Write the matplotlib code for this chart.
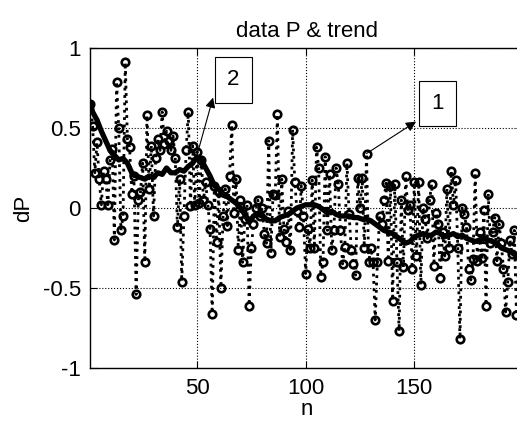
import matplotlib.pyplot as plt
import numpy as np

# Measured increments dP, one value per sample n = 1..200
dp = [
    0.65, 0.51, 0.22, 0.41, 0.18, 0.02, 0.23, 0.18, 0.02, 0.30,
    0.37, -0.20, 0.79, 0.50, -0.14, -0.05, 0.91, 0.43, 0.38, 0.09,
    0.20, -0.54, 0.05, 0.10, 0.28, -0.34, 0.58, 0.12, 0.39, -0.05,
    0.31, 0.43, 0.36, 0.60, 0.40, 0.48, 0.42, 0.36, 0.45, 0.31,
    -0.12, 0.18, -0.46, -0.05, 0.36, 0.60, 0.01, 0.39, 0.02, 0.35,
    0.03, 0.30, 0.05, 0.16, 0.02, -0.13, -0.66, 0.14, -0.21, 0.10,
    -0.50, -0.05, 0.12, -0.11, 0.20, 0.52, -0.03, 0.18, -0.26, 0.05,
    -0.34, -0.07, 0.02, -0.61, -0.25, -0.10, 0.00, 0.05, -0.05, 0.00,
    -0.165, -0.22, 0.42, -0.28, 0.09, 0.08, 0.585, -0.18, 0.18, -0.13,
    -0.21, -0.02, -0.26, 0.49, 0.165, -0.02, -0.12, 0.14, -0.05, -0.41,
    -0.13, -0.25, 0.175, -0.25, 0.38, 0.25, -0.43, -0.34, 0.32, -0.14,
    0.21, -0.26, -0.14, 0.25, 0.15, -0.14, -0.35, -0.245, 0.28, -0.04,
    -0.26, -0.35, -0.42, 0.185, 0.00, 0.185, -0.25, 0.34, -0.34, -0.25,
    -0.335, -0.70, -0.34, -0.05, -0.10, 0.05, 0.155, -0.33, 0.14, -0.58,
    0.15, -0.335, -0.77, 0.05, -0.37, 0.20, -0.01, 0.02, -0.38, 0.16,
    -0.30, 0.16, -0.48, 0.00, -0.07, -0.19, 0.05, 0.15, -0.36, -0.03,
    -0.10, -0.44, -0.15, -0.30, 0.12, -0.25, 0.23, 0.02, 0.175, -0.25,
    -0.82, 0.00, -0.04, -0.12, -0.38, -0.45, -0.32, 0.22, -0.33, -0.15,
    -0.31, -0.01, -0.61, 0.09, -0.22, -0.15, -0.06, -0.33, -0.10, -0.22,
    -0.38, -0.65, -0.46, -0.20, -0.29, -0.14, -0.67, -0.30, -0.42, -0.25,
]
n = np.arange(1, len(dp) + 1)

# Smoothed trend, sampled every second point
trend_n = list(range(0, 201, 2))
trend_n[0] = 1
trend_v = [
    0.65, 0.60, 0.55, 0.48, 0.42, 0.36, 0.33, 0.30, 0.31, 0.28,
    0.22, 0.20, 0.19, 0.18, 0.20, 0.19, 0.22, 0.21, 0.25, 0.22,
    0.22, 0.24, 0.23, 0.26, 0.28, 0.32, 0.30, 0.25, 0.20, 0.14,
    0.12, 0.08, 0.07, 0.05, 0.03, 0.00, -0.04, -0.09, -0.05, -0.04,
    -0.05, -0.07, -0.08, -0.08, -0.06, -0.05, -0.04, -0.02, 0.00, 0.01,
    0.02, 0.02, 0.02, 0.01, -0.01, -0.03, -0.02, -0.04, -0.05, -0.05,
    -0.05, -0.06, -0.06, -0.07, -0.07, -0.08, -0.10, -0.12, -0.14, -0.15,
    -0.16, -0.18, -0.20, -0.22, -0.21, -0.18, -0.17, -0.16, -0.17, -0.17,
    -0.15, -0.16, -0.18, -0.17, -0.16, -0.18, -0.17, -0.19, -0.20, -0.21,
    -0.20, -0.19, -0.20, -0.21, -0.22, -0.25, -0.26, -0.27, -0.29, -0.30,
    -0.31,
]

x_ticks = [50, 100, 150]
y_ticks = [-1, -0.5, 0, 0.5, 1]

plt.rcParams['font.family'] = ['Liberation Sans', 'DejaVu Sans']

fig = plt.figure(figsize=(5.17, 4.26), dpi=100)
ax = fig.add_axes([0.175, 0.1362, 0.8366, 0.7512])

ax.plot(n, dp, 'k:o', linewidth=2.0, markersize=5.4, markeredgewidth=1.9,
        markerfacecolor='none')
ax.plot(trend_n, trend_v, 'k-', linewidth=3.8, solid_joinstyle='round')

ax.set_xlim(1, 200)
ax.set_ylim(-1, 1)
ax.set_xticks(x_ticks)
ax.set_yticks(y_ticks)
ax.set_yticklabels(['%g' % v for v in y_ticks])
ax.tick_params(direction='in', labelsize=16, length=5, width=0.8,
               top=True, right=True, pad=7)
ax.grid(True, linestyle=':', linewidth=0.8, color='k')
for s in ax.spines.values():
    s.set_linewidth(1.0)

ax.set_title('data P & trend', fontsize=16, pad=8)
ax.set_xlabel('n', fontsize=16, labelpad=0)
ax.set_ylabel('dP', fontsize=16, labelpad=6)

# Callouts pointing at the two marked samples
arrow = dict(arrowstyle='-|>', color='k', linewidth=0.8,
             mutation_scale=15, shrinkA=0, shrinkB=0)
ax.annotate('', xy=(150.8, 0.54), xytext=(128, 0.34), arrowprops=arrow)
ax.annotate('', xy=(57.4, 0.69), xytext=(50, 0.33), arrowprops=arrow)
box = dict(boxstyle='square,pad=0.55', facecolor='white', edgecolor='k',
           linewidth=0.8)
ax.text(160.7, 0.653, '1', fontsize=16, ha='center', va='center', bbox=box)
ax.text(66.8, 0.80, '2', fontsize=16, ha='center', va='center', bbox=box)

plt.savefig('out.png', dpi=100)
plt.close()
